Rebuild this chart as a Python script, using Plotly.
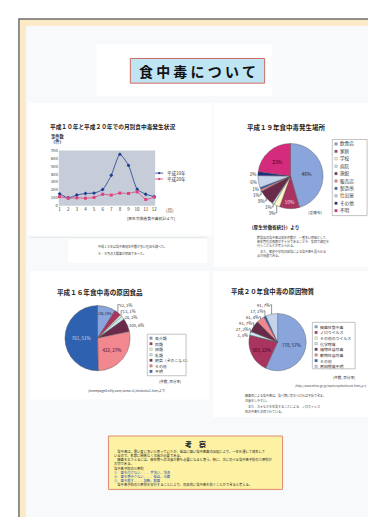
import plotly.graph_objects as go

W, H = 376, 517
def X(p): return p / W
def Y(p): return 1 - p / H

FONT = "Noto Sans CJK JP"

# ---------------- data ----------------
months = list(range(1, 13))
month_labels = [str(m) for m in months]
h10_counts = [150, 100, 135, 155, 160, 205, 385, 650, 510, 210, 145, 115]
h20_counts = [115, 95, 100, 95, 105, 145, 135, 160, 155, 175, 80, 110]
line_names = ["平成10年", "平成20年"]
y_ticks = [0, 100, 200, 300, 400, 500, 600, 700]

place_labels = ["飲食店", "家庭", "学校", "病院", "旅館", "販売店", "製造所", "仕出屋", "その他", "不明"]
place_pct = [46, 10, 3, 1, 8, 1, 1, 6, 2, 23]

food_labels = ["魚介類", "肉類", "卵類", "乳類", "野菜（きのこなど）", "その他", "不明"]
food_counts = [136, 52, 13, 28, 100, 422, 761]
food_pct = [10, 3, 1, 2, 6, 27, 51]

cause_labels = ["細菌性食中毒", "ノロウイルス", "その他のウイルス", "化学物質", "植物性自然毒",
                "動物性自然毒", "その他", "原因物質不明"]
cause_counts = [778, 303, 1, 27, 91, 61, 17, 91]
cause_pct = [57, 22, 0, 2, 7, 4, 1, 7]

# ---------------- styles ----------------
C_LBLUE = "#8aa5db"
C_RED = "#a8345f"
C_YEL = "#fdf9c8"
C_CYAN = "#cbecf6"
C_PURP = "#6a2b4b"
C_SALM = "#f1878f"
C_BLUE = "#2e62b0"
C_GRAY = "#c6d3ec"
C_NAVY = "#1f2f80"
C_MAG = "#d42b7c"

place_colors = [C_LBLUE, C_RED, C_YEL, C_CYAN, C_PURP, C_SALM, C_BLUE, C_GRAY, C_NAVY, C_MAG]
food_colors = [C_LBLUE, C_RED, C_YEL, C_CYAN, C_PURP, C_SALM, C_BLUE]
cause_colors = [C_LBLUE, C_RED, C_YEL, C_CYAN, C_PURP, C_SALM, C_BLUE, C_GRAY]
line_colors = ["#1d3d8f", "#e0407e"]
line_symbols = ["diamond", "square"]

fig = go.Figure()

# ---------------- line chart ----------------
for vals, name, col, sym in zip([h10_counts, h20_counts], line_names, line_colors, line_symbols):
    fig.add_trace(go.Scatter(
        x=months, y=vals, name=name, mode="lines+markers",
        line=dict(color=col, width=0.8, shape="spline", smoothing=0.6),
        marker=dict(color=col, size=3, symbol=sym),
        cliponaxis=False, xaxis="x", yaxis="y"))

# ---------------- pies ----------------
def pie_domain(cx, cy, r):
    return dict(x=[X(cx - r), X(cx + r)], y=[Y(cy + r), Y(cy - r)])

def positions(pcts, thresh):
    return ["inside" if p >= thresh else "outside" for p in pcts]

fig.add_trace(go.Pie(
    labels=place_labels, values=place_pct, sort=False, direction="clockwise", rotation=0,
    domain=pie_domain(284, 166, 33),
    marker=dict(colors=place_colors, line=dict(color="#555", width=0.4)),
    texttemplate="%{value}%", textposition=positions(place_pct, 10),
    insidetextorientation="horizontal",
    textfont=dict(family=FONT, size=4.5, color="#333"),
    insidetextfont=dict(family=FONT, size=5, color=["#223", "#fde", "#222", "#222", "#fff", "#222",
                                                    "#fff", "#222", "#fff", "#402"]),
    showlegend=False, hoverinfo="skip"))

fig.add_trace(go.Pie(
    labels=food_labels, values=food_counts, sort=False, direction="clockwise", rotation=0,
    domain=pie_domain(90, 330, 33),
    customdata=food_pct,
    marker=dict(colors=food_colors, line=dict(color="#555", width=0.4)),
    texttemplate="%{value}, %{customdata}%", textposition=positions(food_pct, 10),
    insidetextorientation="horizontal",
    textfont=dict(family=FONT, size=4.2, color="#333"),
    insidetextfont=dict(family=FONT, size=4.5, color=["#223", "#fff", "#222", "#222", "#fff", "#402",
                                                      "#dde"]),
    showlegend=False, hoverinfo="skip"))

fig.add_trace(go.Pie(
    labels=cause_labels, values=cause_counts, sort=False, direction="clockwise", rotation=0,
    domain=pie_domain(271, 334, 29),
    customdata=cause_pct,
    marker=dict(colors=cause_colors, line=dict(color="#555", width=0.4)),
    texttemplate="%{value}, %{customdata}%", textposition=positions(cause_pct, 10),
    insidetextorientation="horizontal",
    textfont=dict(family=FONT, size=4.2, color="#333"),
    insidetextfont=dict(family=FONT, size=4.5, color=["#223", "#402", "#222", "#222", "#fff", "#222",
                                                      "#fff", "#222"]),
    showlegend=False, hoverinfo="skip"))

# ---------------- shapes ----------------
shapes = []
def rect(x0, y0, x1, y1, fill, line="rgba(0,0,0,0)", lw=0, layer="below"):
    shapes.append(dict(type="rect", xref="paper", yref="paper", x0=X(x0), x1=X(x1),
                       y0=Y(y1), y1=Y(y0), fillcolor=fill, line=dict(color=line, width=lw),
                       layer=layer))

rect(11, 7, 372, 540, "#fce9c6", "#6e6e6e", 1.5)
rect(18, 14, 367, 513, "#f7f9fb")
rect(89, 33, 265, 85, "#ffffff")
rect(20, 92, 205, 226, "#ffffff")
rect(60, 230, 200, 254, "#ffffff")
rect(207, 92, 365, 258, "#ffffff")
rect(22, 262, 202, 392, "#ffffff")
rect(206, 262, 365, 410, "#ffffff")
rect(123, 47, 258, 72, "#bfe4f4", "#d06a60", 1)
rect(101, 429, 276, 483, "#fdf2a4", "#e08a70", 1)

# plot area of line chart
shapes.append(dict(type="rect", xref="x domain", yref="y domain", x0=0, x1=1, y0=0, y1=1,
                   fillcolor="#c6cdd9", line=dict(width=0), layer="below"))

annotations = []
def text(x, y, s, size, color="#222", anchor="left", bold=False, family=FONT):
    if bold:
        s = "<b>" + s + "</b>"
    annotations.append(dict(x=X(x), y=Y(y), xref="paper", yref="paper", text=s, showarrow=False,
                            xanchor=anchor, yanchor="middle",
                            font=dict(family=family, size=size, color=color)))

# line chart legend
for i, (name, col) in enumerate(zip(line_names, line_colors)):
    yy = 163 + i * 6
    shapes.append(dict(type="line", xref="paper", yref="paper", x0=X(148), x1=X(156),
                       y0=Y(yy), y1=Y(yy), line=dict(color=col, width=0.8), layer="above"))
    shapes.append(dict(type="rect", xref="paper", yref="paper", x0=X(151), x1=X(153),
                       y0=Y(yy + 1), y1=Y(yy - 1), fillcolor=col, line=dict(width=0), layer="above"))
    text(157.5, yy, name, 4.5, "#333")

# pie legends
def pie_legend(x0, y0, x1, y1, labels, colors, first_y, step, size):
    rect(x0, y0, x1, y1, "rgba(255,255,255,0)", "#888", 0.5, layer="above")
    for i, (lab, col) in enumerate(zip(labels, colors)):
        yy = first_y + i * step
        shapes.append(dict(type="rect", xref="paper", yref="paper", x0=X(x0 + 2.5), x1=X(x0 + 5),
                           y0=Y(yy + 1.25), y1=Y(yy - 1.25), fillcolor=col,
                           line=dict(color="#666", width=0.3), layer="above"))
        text(x0 + 6, yy, lab, size, "#333")

pie_legend(326, 129, 361, 206, place_labels, place_colors, 133.5, 7.5, 4.6)
pie_legend(140, 326, 179, 368, food_labels, food_colors, 330, 5.6, 3.9)
pie_legend(306, 314, 349, 361, cause_labels, cause_colors, 318.5, 5.7, 3.9)

# separator
shapes.append(dict(type="line", xref="paper", yref="paper", x0=X(22), x1=X(200), y0=Y(228), y1=Y(228),
                   line=dict(color="#d8d8d8", width=0.6), layer="below"))

# ---------------- texts ----------------
text(190.5, 60, "食 中 毒 に つ い て", 14, "#111", "center", bold=True)

text(40, 116, "平成１０年と平成２０年での月別食中毒発生状況", 5.7, "#222", bold=True)
text(41, 126, "事件数", 4.2, "#333", bold=True)
text(41, 131, "（件）", 4.2, "#333", bold=True)
text(157, 201, "(月)", 4.5, "#333")
text(118, 209, "[厚生労働省食中毒統計より]", 3.8, "#333")
text(88, 237, "平成１０年は食中毒発生件数が多い理由を調べた。", 3, "#444")
text(88, 244, "８・９月の大腸菌が原因であった。", 3, "#444")

text(238, 116, "平成１９年食中毒発生場所", 6.5, "#222", bold=True)
text(300, 203, "(重複有)", 3.8, "#333")
text(240, 218, "（厚生労働省統計）より", 4.6, "#222", bold=True)
text(248, 228, "飲食店の食中毒は発生件数が、一番多い原因として、", 3, "#444")
text(248, 232, "衛生管理の徹底が不十分であることや、集団で調理を", 3, "#444")
text(248, 236, "行うことなどが考えられる。", 3, "#444")
text(248, 242, "　また、家庭や学校の給食による食中毒も見られる", 3, "#444")
text(248, 246, "点が問題である。", 3, "#444")

text(47, 283, "平成１６年食中毒の原因食品", 6.6, "#222", bold=True)
text(150, 374, "(件数, 百分率)", 3.6, "#333")
text(78, 383, "(homepage3.nifty.com/tama-c1/shokuhu1.htm)より", 3.2, "#444")

text(222, 283, "平成２０年食中毒の原因物質", 6.4, "#222", bold=True)
text(325, 370, "(件数, 百分率)", 3.6, "#333")
text(287, 378, "(http://www.mhlw.go.jp/topics/syokuchu/04.html)より", 2.8, "#444")
text(236, 388, "細菌性による食中毒は、食べ物に気をつければ予防できる。", 3, "#444")
text(236, 393, "注意をしやすい。", 3, "#444")
text(236, 399, "　また、カキなどを生食することによる、ノロウイルス", 3, "#444")
text(236, 404, "性の中毒も注目されている。", 3, "#444")

# conclusion box
text(189, 437, "考　察", 7, "#222", "center", bold=True)
body = [
    ("　食中毒は、暑い夏に多いと思っていたが、低温に強い食中毒菌の出現により、一年を通して発生して", "#222"),
    ("いるので、季節に関係なく注意が必要である。", "#222"),
    ("　細菌をおさえるには、微生物への注意が最も必要になると思う。特に、次にのべる食中毒予防の三原則が", "#222"),
    ("大切である。", "#222"),
    ("食中毒予防の三原則", "#222"),
    ("①　菌を付けない．．．手洗い、洗浄", "#2a45b0"),
    ("②　菌を増やさない．．．低温、冷蔵", "#2a45b0"),
    ("③　菌を殺す．．．加熱、殺菌", "#2a45b0"),
    ("　食中毒予防の三原則を実行することにより、効果的に食中毒を防ぐことができると考える。", "#222"),
]
for i, (s, col) in enumerate(body):
    text(105, 445 + i * 4.1, s, 3.3, col)

fig.update_layout(
    width=W, height=H, margin=dict(l=0, r=0, t=0, b=0, pad=0),
    paper_bgcolor="#ffffff", plot_bgcolor="rgba(0,0,0,0)",
    showlegend=False, shapes=shapes, annotations=annotations,
    font=dict(family=FONT),
    xaxis=dict(domain=[X(51), X(148)], range=[0.9, 12.1], tickvals=months, ticktext=month_labels,
               showgrid=False, zeroline=False, showline=False, ticks="",
               tickfont=dict(family=FONT, size=4.5, color="#333"), fixedrange=True),
    yaxis=dict(domain=[Y(196), Y(140)], range=[0, 700], tickvals=y_ticks,
               showgrid=False, zeroline=False, showline=False, ticks="",
               tickfont=dict(family=FONT, size=4.2, color="#333"), fixedrange=True),
)

fig.write_html("out.html", config={"displayModeBar": False})
